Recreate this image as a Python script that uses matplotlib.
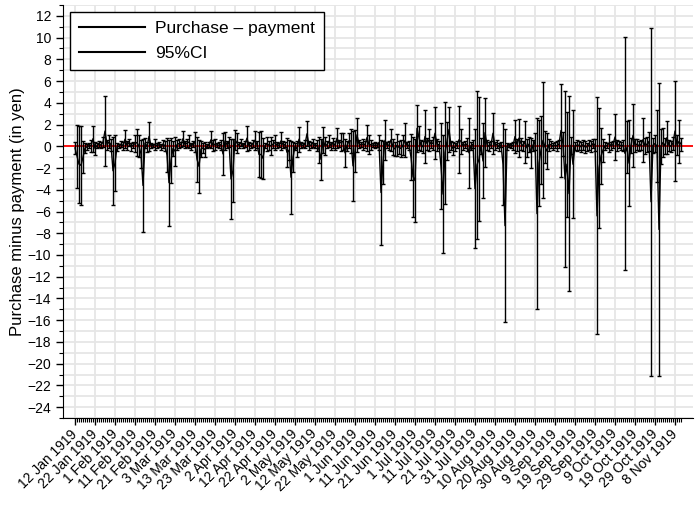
import numpy as np
import pandas as pd
import matplotlib
matplotlib.use('Agg')
import matplotlib.pyplot as plt
from matplotlib.lines import Line2D
from matplotlib.ticker import MultipleLocator

plt.rcParams['font.family'] = ['Liberation Sans', 'DejaVu Sans']

START = '1919-01-12'

# upper bound of the 95% CI, one value per day from 12 Jan 1919
ci_high = [
    0.4, 2.0, 1.9, 1.9, 0.5, 0.3, 0.2, 0.3, 0.6, 1.9,
    0.4, 0.3, 0.5, 0.4, 0.9, 4.6, 0.6, 1.0, 0.7, 0.9,
    1.0, 0.3, 0.2, 0.5, 0.4, 1.5, 0.5, 0.7, 0.3, 0.4,
    1.0, 1.6, 1.0, 0.6, 0.7, 0.8, 0.4, 2.2, 0.3, 0.2,
    0.7, 0.3, 0.4, 0.2, 0.6, 0.5, 0.8, 0.6, 0.8, 0.5,
    0.9, 0.6, 0.7, 0.4, 1.4, 0.5, 0.7, 1.0, 0.3, 0.5,
    1.3, 0.9, 0.6, 0.5, 0.3, 0.4, 0.2, 0.4, 1.4, 0.6,
    0.7, 0.3, 0.4, 0.6, 1.2, 1.3, 0.5, 0.9, 0.7, 0.7,
    1.5, 1.2, 0.4, 0.7, 0.3, 0.5, 1.9, 0.4, 0.3, 0.6,
    1.4, 0.5, 1.3, 1.4, 0.8, 0.3, 0.9, 0.5, 0.9, 0.6,
    1.0, 0.4, 0.3, 1.3, 0.5, 0.4, 0.8, 0.6, 0.5, 0.4,
    0.3, 0.5, 1.8, 0.4, 0.3, 0.6, 2.3, 0.5, 0.4, 0.7,
    0.3, 0.6, 0.9, 0.7, 1.8, 0.9, 0.5, 1.0, 0.4, 0.8,
    0.5, 1.7, 0.6, 1.2, 1.2, 0.7, 0.5, 1.2, 1.6, 1.4,
    1.5, 2.6, 0.6, 0.4, 0.7, 0.5, 2.0, 1.0, 0.6, 0.3,
    0.4, 0.3, 1.0, 0.6, 0.5, 2.4, 0.4, 0.5, 1.6, 0.7,
    0.4, 1.1, 0.5, 0.6, 1.0, 2.1, 0.4, 0.5, 1.1, 0.9,
    0.7, 3.8, 1.9, 0.6, 0.5, 3.3, 0.8, 1.6, 0.6, 0.9,
    3.6, 0.7, 0.5, 2.1, 1.0, 4.1, 2.2, 3.6, 0.5, 0.4,
    0.3, 0.5, 3.7, 1.6, 0.4, 0.5, 0.8, 2.6, 0.4, 0.6,
    1.6, 5.1, 4.5, 0.8, 2.1, 4.4, 0.6, 0.4, 0.5, 3.1,
    0.4, 0.6, 0.3, 0.4, 2.1, 1.6, 0.3, 0.2, 0.3, 0.4,
    2.4, 0.7, 2.5, 0.8, 0.5, 2.3, 0.7, 0.9, 0.8, 0.6,
    1.2, 2.6, 2.4, 2.8, 5.9, 1.4, 1.2, 0.7, 0.5, 0.3,
    0.4, 0.5, 0.6, 5.7, 1.3, 5.1, 3.2, 4.6, 0.9, 3.3,
    0.4, 0.6, 0.5, 0.4, 0.6, 0.5, 0.3, 0.6, 0.5, 0.7,
    0.7, 4.5, 3.5, 1.7, 0.7, 0.4, 0.3, 1.1, 0.4, 0.5,
    3.0, 0.6, 0.5, 0.4, 0.6, 10.1, 2.3, 2.4, 0.8, 3.9,
    0.7, 0.7, 0.5, 0.6, 2.6, 0.8, 0.9, 1.3, 10.9, 0.8,
    1.0, 3.3, 5.8, 1.6, 1.7, 0.8, 2.3, 0.6, 0.5, 0.9,
    6.0, 1.0, 2.4, 0.8,
]

# lower bound of the 95% CI
ci_low = [
    -0.7, -3.8, -5.2, -5.4, -2.5, -0.6, -0.3, -0.2, -0.5, -0.5,
    -0.8, -0.2, -0.1, -0.2, -0.1, -1.8, -0.3, -0.2, -0.4, -5.4,
    -4.1, -0.4, -0.2, -0.1, -0.3, -0.2, -0.3, 0.0, -0.4, -0.2,
    -0.5, -0.9, -1.0, -2.0, -7.9, -0.2, -0.5, -0.4, -0.2, -0.1,
    -0.3, -0.2, -0.1, -0.3, -0.2, -0.4, -2.4, -7.3, -3.4, -0.9,
    -1.8, -0.3, -0.2, -0.1, 0.0, -0.2, -0.1, -0.2, -0.3, -0.1,
    -0.5, -3.3, -4.3, -1.0, -0.6, -1.0, -0.2, -0.1, -0.2, -0.4,
    -0.3, -0.1, -0.2, -0.3, -2.6, -0.3, -0.2, -0.1, -6.7, -5.1,
    -0.3, -0.6, -0.2, 0.0, -0.2, -0.1, -0.4, -0.3, -0.2, -0.1,
    -0.3, -0.2, -2.8, -2.9, -3.0, -0.2, -0.4, -0.3, -0.8, -0.2,
    -0.3, -0.2, -0.1, -0.3, -0.2, -0.1, -1.9, -1.3, -6.2, -2.4,
    -0.3, -1.0, -0.5, -0.2, -0.1, -0.2, 0.0, -0.3, -0.2, -0.1,
    -0.2, -0.4, -1.5, -3.1, -0.6, -0.8, -0.2, -0.1, -0.3, -0.2,
    -0.3, -0.2, -0.1, -0.4, -0.3, -1.9, -0.4, -0.2, -0.6, -5.0,
    -2.4, -0.5, -0.2, -0.1, -0.3, -0.2, -0.4, -0.7, -0.3, -0.1,
    -0.2, -0.1, -0.3, -9.1, -3.5, -1.3, -0.2, -0.3, -0.4, -0.8,
    -0.9, -0.9, -0.7, -1.0, -0.8, -1.0, -0.2, -0.3, -3.1, -6.5,
    -7.0, -0.5, -0.3, -0.4, -0.6, -1.5, -0.3, -0.4, -0.2, -0.3,
    -1.2, -0.4, -0.2, -5.8, -9.8, -5.3, -1.3, -0.5, -0.3, -0.8,
    -0.4, -0.2, -2.5, -0.7, -0.3, -0.2, -0.4, -3.8, -0.3, -0.2,
    -9.4, -8.5, -6.9, -0.7, -4.8, -1.9, -0.3, -0.4, -0.2, -0.7,
    -0.3, -0.2, -0.4, -0.1, -5.4, -16.2, -0.3, -0.1, -0.2, -0.3,
    -0.6, -0.4, -1.0, -0.3, -0.4, -1.5, -1.0, -0.5, -2.0, -0.4,
    -0.3, -15.0, -5.5, -3.5, -4.8, -1.5, -2.1, -0.4, -0.2, -0.3,
    -0.2, -0.4, -0.2, -2.8, -0.9, -11.1, -6.5, -13.3, -0.7, -6.6,
    -0.3, -0.4, -0.3, -0.5, -0.3, -0.6, -0.4, -0.3, -0.5, -0.2,
    -0.4, -17.3, -7.5, -3.5, -1.4, -0.3, -0.2, -0.5, -0.3, -0.2,
    -1.3, -0.4, -0.2, -0.3, -0.4, -11.4, -2.5, -5.5, -0.6, -1.9,
    -0.5, -0.3, -0.4, -0.3, -1.4, -0.7, -0.5, -0.4, -21.1, -0.6,
    -0.5, -3.3, -21.1, -1.6, -1.0, -0.7, -0.7, -0.4, -0.5, -0.3,
    -3.2, -0.8, -1.5, -0.4,
]

dates = pd.date_range(START, periods=len(ci_high), freq='D')
hi = np.array(ci_high)
lo = np.array(ci_low)
diff = (hi + lo) / 2
half = (hi - lo) / 2

fig = plt.figure(figsize=(6.98, 5.07), dpi=100)
ax = fig.add_axes([63 / 698, 89 / 507, 630 / 698, 413 / 507])

ax.axhline(0, color='red', lw=1.3, zorder=1)
ax.errorbar(dates, diff, yerr=half, fmt='none', ecolor='black', elinewidth=1,
            capsize=1.5, capthick=1, zorder=2)
ax.plot(dates, diff, color='black', lw=1, zorder=3)

ax.set_xlim(dates[0] - pd.Timedelta(days=6), dates[0] + pd.Timedelta(days=309))
ax.set_ylim(-25, 13)

major = dates[::10]
ax.set_xticks(major)
ax.set_xticklabels([f"{d.day} {d.strftime('%b %Y')}" for d in major],
                   rotation=45, ha='right', va='center', rotation_mode='anchor')
ax.set_xticks(dates, minor=True)
ax.yaxis.set_major_locator(MultipleLocator(2))
ax.yaxis.set_minor_locator(MultipleLocator(1))

ax.tick_params(which='major', direction='out', length=5, width=1, labelsize=10)
ax.tick_params(which='minor', direction='out', length=3, width=0.8)
ax.tick_params(axis='x', which='major', pad=5)

ax.set_axisbelow(True)
ax.grid(axis='x', which='major', color='#e6e6e6', lw=1.3)
ax.grid(axis='y', which='both', color='#e6e6e6', lw=1.3)
for s in ['top', 'right']:
    ax.spines[s].set_visible(False)

ax.set_ylabel('Purchase minus payment (in yen)', fontsize=12)
ax.yaxis.set_label_coords(-0.061, 0.5)

handles = [Line2D([], [], color='black', lw=1.5), Line2D([], [], color='black', lw=1.5)]
leg = ax.legend(handles, ['Purchase \u2013 payment', '95%CI'], loc='upper left',
                fontsize=12.5, frameon=True, fancybox=False, framealpha=1,
                edgecolor='black', handlelength=3.8, handletextpad=0.6,
                labelspacing=0.58, borderpad=0.5, borderaxespad=0.4)
leg.get_frame().set_linewidth(1)

plt.savefig('out.png', dpi=100)
